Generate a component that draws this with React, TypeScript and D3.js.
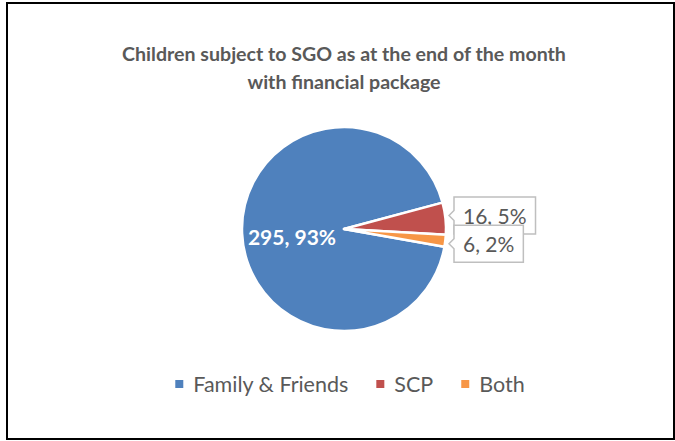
import React, { useRef, useEffect } from 'react'
import * as d3 from 'd3'

const categories = ['Family & Friends', 'SCP', 'Both']
const values = [295, 16, 6]
const percentLabels = ['93%', '5%', '2%']
const colors = ['#4F81BD', '#C0504D', '#F79646']
const titleLines = ['Children subject to SGO as at the end of the month', 'with financial package']

const W = 675
const H = 441
const cx = 344
const cy = 229
const radius = 102
const firstSliceAngle = 100 // degrees, clockwise from 12 o'clock
const textColor = '#595959'
const font = 'Lato, "Open Sans", sans-serif'

export default function App() {
  const svgRef = useRef(null)

  useEffect(() => {
    const svg = d3.select(svgRef.current)
    svg.selectAll('*').remove()

    // outer frame
    svg.append('rect')
      .attr('x', 7).attr('y', 3)
      .attr('width', 667).attr('height', 436)
      .attr('fill', '#fff')
      .attr('stroke', '#000')
      .attr('stroke-width', 2)

    // title
    svg.append('g').selectAll('text')
      .data(titleLines)
      .join('text')
      .attr('x', cx)
      .attr('y', (d, i) => 61 + i * 28)
      .attr('text-anchor', 'middle')
      .attr('font-family', font)
      .attr('font-weight', 'bold')
      .attr('font-size', 19.6)
      .attr('fill', textColor)
      .text(d => d)

    const a0 = firstSliceAngle * Math.PI / 180
    const pie = d3.pie().sort(null).startAngle(a0).endAngle(a0 + 2 * Math.PI)
    const arcs = pie(values)
    const arc = d3.arc().innerRadius(0).outerRadius(radius)

    const g = svg.append('g').attr('transform', `translate(${cx},${cy})`)

    g.selectAll('path')
      .data(arcs)
      .join('path')
      .attr('d', arc)
      .attr('fill', (d, i) => colors[i])
      .attr('stroke', '#fff')
      .attr('stroke-width', 2.5)
      .attr('stroke-linejoin', 'round')

    // big slice label inside
    g.append('text')
      .attr('x', -52)
      .attr('y', 16)
      .attr('text-anchor', 'middle')
      .attr('font-family', font)
      .attr('font-weight', 'bold')
      .attr('font-size', 21)
      .attr('fill', '#fff')
      .text(`${values[0]}, ${percentLabels[0]}`)

    // callout labels for small slices
    const small = arcs.slice(1)
    const shifts = [-3, 3]
    small.forEach((d, k) => {
      const i = k + 1
      const mid = (d.startAngle + d.endAngle) / 2
      const py = -Math.cos(mid) * radius
      const boxY = py + shifts[k]
      const lg = g.append('g')
      const box = lg.append('path')
      const t = lg.append('text')
        .attr('font-family', font)
        .attr('font-size', 21)
        .attr('fill', textColor)
        .text(`${values[i]}, ${percentLabels[i]}`)
      const tw = t.node().getComputedTextLength()
      const left = radius + 8
      const padX = 9
      const bw = tw + padX * 2
      const bh = 37
      const top = boxY - bh / 2
      t.attr('x', left + padX).attr('y', top + 27)
      const tipX = left - 5
      const p = d3.path()
      p.moveTo(left, top)
      p.lineTo(left + bw, top)
      p.lineTo(left + bw, top + bh)
      p.lineTo(left, top + bh)
      p.lineTo(left, boxY + 5)
      p.lineTo(tipX, boxY)
      p.lineTo(left, boxY - 5)
      p.closePath()
      box.attr('d', p.toString())
        .attr('fill', '#fff')
        .attr('stroke', '#BFBFBF')
        .attr('stroke-width', 1.5)
    })

    // legend
    const legend = svg.append('g')
    let x = 0
    const gap = 28
    categories.forEach((c, i) => {
      const item = legend.append('g')
      item.append('rect')
        .attr('width', 8).attr('height', 8)
        .attr('y', -12)
        .attr('fill', colors[i])
      const t = item.append('text')
        .attr('x', 18)
        .attr('font-family', font)
        .attr('font-size', 21.5)
        .attr('fill', textColor)
        .text(c)
      const w = 18 + t.node().getComputedTextLength()
      item.attr('transform', `translate(${x},0)`)
      x += w + gap
    })
    const total = x - gap
    legend.attr('transform', `translate(${cx + 6 - total / 2},392)`)
  }, [])

  return (
    <svg ref={svgRef} width={W} height={H}
      style={{ position: 'absolute', left: 0, top: 0, background: '#fff' }} />
  )
}
